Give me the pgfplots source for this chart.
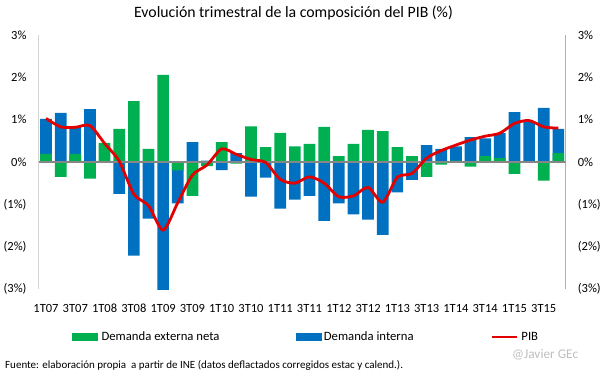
\documentclass[border=0pt]{standalone}
\usepackage{pgfplots}
\pgfplotsset{compat=1.18}
\usepackage{pgfplotstable}
\usepackage{fontspec}
\setmainfont{Carlito}
\definecolor{cgreen}{RGB}{0,176,80}
\definecolor{cblue}{RGB}{0,112,192}
\definecolor{cred}{RGB}{226,0,0}
\definecolor{cgray}{RGB}{134,134,134}
\definecolor{cwm}{RGB}{190,190,190}

\pgfplotstableread{
x g b pib
1 0.19 0.83 1.03
2 -0.35 1.16 0.83
3 0.19 0.64 0.82
4 -0.39 1.25 0.86
5 0.45 0.00 0.44
6 0.78 -0.75 0.02
7 1.44 -2.21 -0.76
8 0.31 -1.34 -1.03
9 2.06 -3.03 -1.61
10 -0.20 -0.78 -0.96
11 -0.80 0.47 -0.31
12 -0.10 0.03 -0.07
13 0.47 -0.19 0.31
14 -0.04 0.21 0.18
15 0.84 -0.82 0.06
16 0.35 -0.37 -0.01
17 0.69 -1.10 -0.41
18 0.37 -0.89 -0.50
19 0.43 -0.80 -0.35
20 0.83 -1.39 -0.50
21 0.14 -0.98 -0.82
22 0.43 -1.24 -0.80
23 0.76 -1.36 -0.60
24 0.73 -1.72 -0.95
25 0.35 -0.72 -0.36
26 0.14 -0.42 -0.27
27 -0.35 0.40 0.09
28 -0.06 0.31 0.27
29 0.03 0.34 0.40
30 -0.11 0.59 0.52
31 0.14 0.42 0.61
32 0.09 0.59 0.68
33 -0.28 1.18 0.91
34 0.00 0.96 0.98
35 -0.44 1.28 0.83
36 0.21 0.57 0.80
}\datatab

\begin{document}
\begin{tikzpicture}[x=1pt,y=1pt]
\useasboundingbox (0,0) rectangle (605,378);
\begin{axis}[
  at={(38.7pt,89pt)}, anchor=south west,
  scale only axis, width=527pt, height=254pt,
  xmin=0.5, xmax=36.5, ymin=-3, ymax=3,
  axis line style={draw=none},
  tick style={draw=none},
  xtick={1,3,...,35},
  xticklabels={1T07,3T07,1T08,3T08,1T09,3T09,1T10,3T10,1T11,3T11,1T12,3T12,1T13,3T13,1T14,3T14,1T15,3T15},
  ytick={-3,-2,-1,0,1,2,3},
  yticklabels={(3\%),(2\%),(1\%),0\%,1\%,2\%,3\%},
  ticklabel style={font=\fontsize{12.5}{14}\selectfont},
  xticklabel style={anchor=base, yshift=-19pt, inner sep=0pt},
  yticklabel style={anchor=east, inner sep=0pt, xshift=-12pt},
  ybar, bar width=11.7pt,
  legend columns=3,
  legend cell align=left,
  legend style={at={(axis description cs:0.0632,-0.189)}, anchor=west,
    draw=none, fill=none, inner sep=0pt, column sep=0pt,
    font=\fontsize{12.7}{14}\selectfont,
    nodes={inner sep=0pt},
    /tikz/column 1/.style={column sep=4pt},
    /tikz/column 2/.style={column sep=76pt},
    /tikz/column 3/.style={column sep=3pt},
    /tikz/column 4/.style={column sep=77pt},
    /tikz/column 5/.style={column sep=3pt}},
  clip=true,
]
\addlegendimage{legend image code/.code={\fill[cgreen] (0pt,-3.5pt) rectangle (25pt,3.5pt);}}
\addlegendentry{Demanda externa neta}
\addlegendimage{legend image code/.code={\fill[cblue] (0pt,-3.5pt) rectangle (25pt,3.5pt);}}
\addlegendentry{Demanda interna}
\addplot[forget plot, fill=cblue, draw=none, bar shift=0pt]
  table[x=x, y expr={\thisrow{g}*\thisrow{b}>0 ? \thisrow{g}+\thisrow{b} : \thisrow{b}}] {\datatab};
\addplot[forget plot, fill=cgreen, draw=none, bar shift=0pt]
  table[x=x, y=g] {\datatab};
\draw[cgray, line width=1.2pt] (axis cs:0.5,0) -- (axis cs:36.5,0);
\draw[cgray, line width=1pt] (rel axis cs:0,0) -- (rel axis cs:0,1);
\draw[cgray, line width=1pt] (rel axis cs:1,0) -- (rel axis cs:1,1);
\addplot[sharp plot, cred, line width=2.8pt, smooth, tension=0.45,
  legend image code/.code={\draw[cred, line width=2.8pt] (0pt,0pt) -- (25pt,0pt);}]
  table[x=x, y=pib] {\datatab};
\addlegendentry{PIB}
\end{axis}
\begin{axis}[
  at={(38.7pt,89pt)}, anchor=south west,
  scale only axis, width=527pt, height=254pt,
  xmin=0.5, xmax=36.5, ymin=-3, ymax=3,
  axis line style={draw=none},
  tick style={draw=none},
  xtick=\empty,
  ytick={-3,-2,-1,0,1,2,3},
  yticklabels={(3\%),(2\%),(1\%),0\%,1\%,2\%,3\%},
  yticklabel pos=right,
  ticklabel style={font=\fontsize{12.5}{14}\selectfont},
  yticklabel style={anchor=west, inner sep=0pt, xshift=12pt},
]
\end{axis}
\node[font=\fontsize{15.8}{18}\selectfont] at (293.5,365) {Evolución trimestral de la composición del PIB (\%)};
\node[anchor=west, inner sep=0pt, font=\fontsize{11}{13}\selectfont] at (5,13) {Fuente: elaboración propia\ \ a partir de INE (datos deflactados corregidos estac y calend.).};
\node[anchor=west, inner sep=0pt, text=cwm, font=\fontsize{13.3}{15}\selectfont] at (512,23) {@Javier GEc};
\end{tikzpicture}
\end{document}
